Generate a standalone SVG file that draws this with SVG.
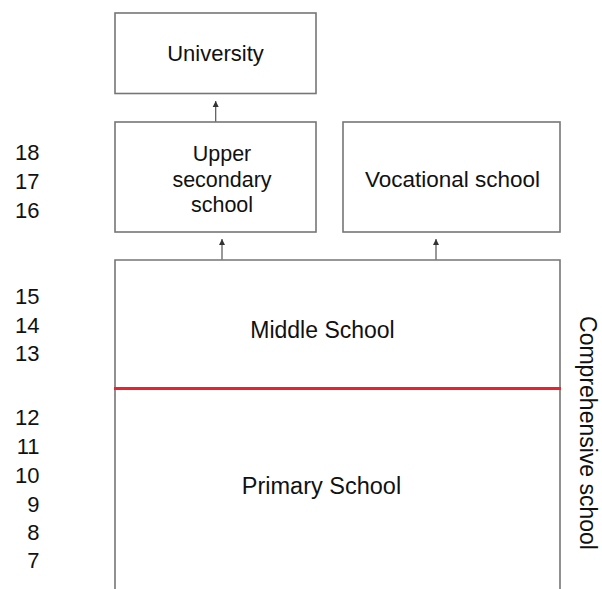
<svg xmlns="http://www.w3.org/2000/svg" width="602" height="589" viewBox="0 0 602 589">
<style>
.box{fill:#ffffff;stroke:#767676;stroke-width:1.6}
.t{font-family:"Liberation Sans",Arial,sans-serif;fill:#111111;text-anchor:middle}
.age{font-family:"Liberation Sans",Arial,sans-serif;fill:#111111;font-size:22px;text-anchor:end}
.conn{stroke:#555555;stroke-width:1.2;fill:none}
</style>
<defs>
<marker id="ah" markerUnits="userSpaceOnUse" markerWidth="8" markerHeight="8" refX="6" refY="3.5" orient="auto">
<path d="M0,0.5 L6,3.5 L0,6.5 Z" fill="#333333"/>
</marker>
</defs>
<rect width="602" height="589" fill="#ffffff"/>
<g id="university">
<rect class="box" x="115" y="13" width="201" height="80.5"/>
<text class="t" x="215.5" y="61" font-size="22">University</text>
</g>
<g id="upper-secondary">
<rect class="box" x="115" y="122" width="201" height="110"/>
<text class="t" x="222" y="161" font-size="21.5">Upper</text>
<text class="t" x="222" y="187" font-size="21.5">secondary</text>
<text class="t" x="222" y="212" font-size="21.5">school</text>
</g>
<g id="vocational">
<rect class="box" x="343" y="122" width="217" height="110"/>
<text class="t" x="452.5" y="187" font-size="22.5">Vocational school</text>
</g>
<g id="comprehensive">
<path class="box" d="M115,600 L115,260 L560,260 L560,600"/>
<line x1="114" y1="388.5" x2="561" y2="388.5" stroke="#e8232d" stroke-width="3"/>
<text class="t" x="322.5" y="338" font-size="23">Middle School</text>
<text class="t" x="321.5" y="494" font-size="23.5">Primary School</text>
<text class="t" transform="translate(580,433) rotate(90)" font-size="23">Comprehensive school</text>
</g>
<g id="ages">
<text class="age" x="39.5" y="160">18</text>
<text class="age" x="39.5" y="189">17</text>
<text class="age" x="39.5" y="217.5">16</text>
<text class="age" x="39.5" y="303.5">15</text>
<text class="age" x="39.5" y="332.5">14</text>
<text class="age" x="39.5" y="361">13</text>
<text class="age" x="39.5" y="425">12</text>
<text class="age" x="39.5" y="453.5">11</text>
<text class="age" x="39.5" y="482.5">10</text>
<text class="age" x="39.5" y="511.5">9</text>
<text class="age" x="39.5" y="540">8</text>
<text class="age" x="39.5" y="568">7</text>
</g>
<g id="connectors">
<line class="conn" x1="215.7" y1="121.5" x2="215.7" y2="101" marker-end="url(#ah)"/>
<line class="conn" x1="222" y1="259.5" x2="222" y2="239" marker-end="url(#ah)"/>
<line class="conn" x1="436" y1="259.5" x2="436" y2="239" marker-end="url(#ah)"/>
</g>
</svg>
